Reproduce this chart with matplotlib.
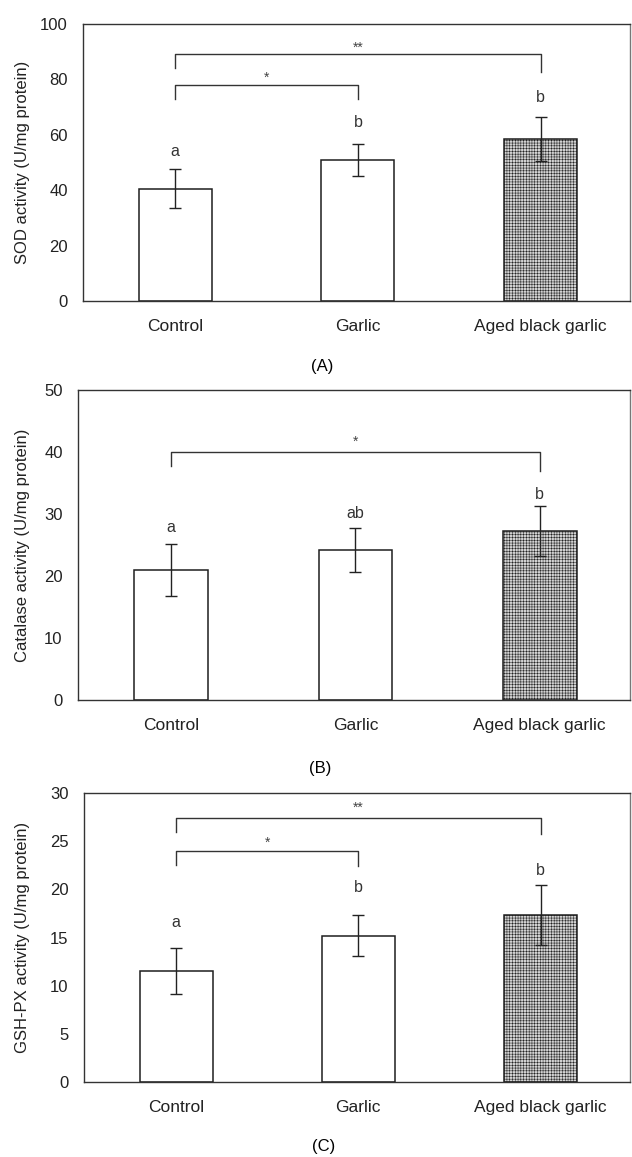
import matplotlib
matplotlib.use("Agg")
import matplotlib.pyplot as plt
import matplotlib.transforms as mtransforms
import numpy as np

plt.rcParams['font.family'] = ['Liberation Sans', 'DejaVu Sans']
plt.rcParams['hatch.color'] = '#8c8c8c'
plt.rcParams['hatch.linewidth'] = 0.35

groups = ['Control', 'Garlic', 'Aged black garlic']

# panel A - SOD
sod_mean = [40.5, 51.0, 58.5]
sod_err = [7.0, 5.7, 8.0]
sod_letters = ['a', 'b', 'b']
sod_letter_y = [54, 64.5, 73.5]
# bracket: (from, to, top, left leg end, right leg end, mark, mark y)
sod_brackets = [(0, 1, 77.9, 73.0, 72.8, '*', 80.5),
                (0, 2, 89.0, 84.0, 82.7, '**', 91.5)]

# panel B - catalase
cat_mean = [21.0, 24.2, 27.3]
cat_err = [4.2, 3.6, 4.0]
cat_letters = ['a', 'ab', 'b']
cat_letter_y = [27.9, 30.1, 33.2]
cat_brackets = [(0, 2, 40.0, 37.7, 36.9, '*', 41.6)]

# panel C - GSH-PX
gsh_mean = [11.5, 15.2, 17.3]
gsh_err = [2.4, 2.1, 3.1]
gsh_letters = ['a', 'b', 'b']
gsh_letter_y = [16.6, 20.2, 22.0]
gsh_brackets = [(0, 1, 24.0, 22.5, 22.4, '*', 24.8),
                (0, 2, 27.4, 26.0, 25.7, '**', 28.5)]

W, H = 632, 1157
panels = [
    dict(mean=sod_mean, err=sod_err, letters=sod_letters, ly=sod_letter_y,
         brackets=sod_brackets, ylim=100, step=20,
         ylabel='SOD activity (U/mg protein)', tag='(A)',
         rect=[83/W, 1-301/H, 547/W, 277/H], tag_xy=(322, 366)),
    dict(mean=cat_mean, err=cat_err, letters=cat_letters, ly=cat_letter_y,
         brackets=cat_brackets, ylim=50, step=10,
         ylabel='Catalase activity (U/mg protein)', tag='(B)',
         rect=[78/W, 1-700/H, 552/W, 310/H], tag_xy=(320, 768)),
    dict(mean=gsh_mean, err=gsh_err, letters=gsh_letters, ly=gsh_letter_y,
         brackets=gsh_brackets, ylim=30, step=5,
         ylabel='GSH-PX activity (U/mg protein)', tag='(C)',
         rect=[84/W, 1-1082/H, 546/W, 289/H], tag_xy=(324, 1147)),
]

fig = plt.figure(figsize=(W/100, H/100), dpi=100)
x = np.arange(len(groups))

for p in panels:
    ax = fig.add_axes(p['rect'])
    faces = ['white', 'white', '#d2d2d2']
    bars = ax.bar(x, p['mean'], width=0.4, color=faces, edgecolor='#1e1e1e', linewidth=1.1, zorder=2)
    bars[2].set_hatch('++++++')
    ax.errorbar(x, p['mean'], yerr=p['err'], fmt='none', ecolor='#222222',
                elinewidth=1.0, capsize=4.5, capthick=1.0, zorder=3)
    for xi, lab, yy in zip(x, p['letters'], p['ly']):
        ax.text(xi, yy, lab, ha='center', va='center', fontsize=11.5, color='#333333')
    for (a, b, top, l1, l2, mark, my) in p['brackets']:
        ax.plot([a, a, b, b], [l1, top, top, l2], color='#333333', linewidth=1.0)
        ax.text((a + b) / 2, my, mark, ha='center', va='center', fontsize=10, color='#444444')
    ax.set_xlim(-0.505, 2.49)
    ax.set_ylim(0, p['ylim'])
    ax.set_yticks(np.arange(0, p['ylim'] + 1, p['step']))
    ax.set_xticks(x)
    ax.set_xticklabels(groups, fontsize=12.5)
    ax.tick_params(axis='both', length=0, colors='#222222')
    ax.tick_params(axis='y', pad=11, labelsize=12)
    ax.tick_params(axis='x', pad=13)
    for s in ['left', 'top', 'bottom', 'right']:
        ax.spines[s].set_linewidth(1.0)
        ax.spines[s].set_color('#333333')
    ax.spines['right'].set_color('#777777')
    ax.set_ylabel(p['ylabel'], fontsize=12, color='#222222')
    trans = mtransforms.blended_transform_factory(fig.transFigure, ax.transAxes)
    ax.yaxis.set_label_coords(30/W, 0.5, transform=trans)
    tx, ty = p['tag_xy']
    fig.text(tx/W, 1 - ty/H, p['tag'], ha='center', va='center', fontsize=12)

fig.savefig('out.png', dpi=100)
